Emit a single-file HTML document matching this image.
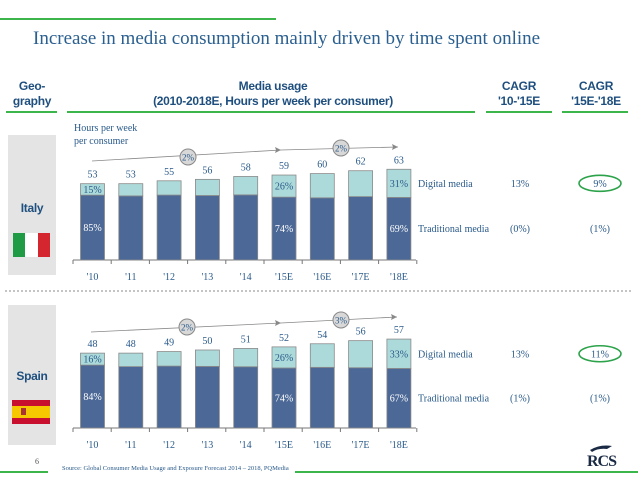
<!DOCTYPE html>
<html><head><meta charset="utf-8">
<style>
body{margin:0;background:#fff;}
svg{display:block;font-family:"Liberation Serif",serif;}
.hd{font-family:"Liberation Sans Narrow","Liberation Sans",sans-serif;font-weight:bold;fill:#1f4f7e;font-size:12px;letter-spacing:-0.3px}
.t{fill:#2a5a8a;font-size:10px}
</style></head><body>
<svg id="c" width="638" height="479" viewBox="0 0 638 479" xmlns="http://www.w3.org/2000/svg">
<line x1="0" y1="19" x2="276" y2="19" stroke="#3cb54a" stroke-width="2"/>
<text x="33" y="44" font-size="19" fill="#2a5f8f">Increase in media consumption mainly driven by time spent online</text>
<g>
<text class="hd" x="32" y="90" text-anchor="middle">Geo-</text>
<text class="hd" x="32" y="105" text-anchor="middle">graphy</text>
<line x1="6" y1="112" x2="57" y2="112" stroke="#3cb54a" stroke-width="2"/>
<text class="hd" x="273" y="90" text-anchor="middle">Media usage</text>
<text class="hd" x="273" y="105" text-anchor="middle">(2010-2018E, Hours per week per consumer)</text>
<line x1="67" y1="112" x2="475" y2="112" stroke="#3cb54a" stroke-width="2"/>
<text class="hd" x="519" y="90" text-anchor="middle">CAGR</text>
<text class="hd" x="519" y="105" text-anchor="middle">'10-'15E</text>
<line x1="486" y1="112" x2="552" y2="112" stroke="#3cb54a" stroke-width="2"/>
<text class="hd" x="596" y="90" text-anchor="middle">CAGR</text>
<text class="hd" x="596" y="105" text-anchor="middle">'15E-'18E</text>
<line x1="562" y1="112" x2="628" y2="112" stroke="#3cb54a" stroke-width="2"/>
</g>
<text class="t" x="74" y="131" fill="#5a7a9a">Hours per week</text>
<text class="t" x="74" y="144">per consumer</text>
<rect x="8" y="135" width="48" height="140" fill="#e4e4e4"/>
<text class="hd" x="32" y="212" text-anchor="middle" font-size="13">Italy</text>
<g><rect x="13" y="233" width="12" height="24" fill="#1f9a45"/><rect x="25" y="233" width="13" height="24" fill="#fff"/><rect x="38" y="233" width="12" height="24" fill="#d3262f"/></g>
<line x1="5" y1="291" x2="633" y2="291" stroke="#888" stroke-dasharray="2,2"/>
<rect x="8" y="305" width="48" height="140" fill="#e4e4e4"/>
<text class="hd" x="32" y="380" text-anchor="middle" font-size="13">Spain</text>
<g><rect x="12" y="400" width="38" height="6" fill="#c8102e"/><rect x="12" y="406" width="38" height="12" fill="#f6c800"/><rect x="12" y="418" width="38" height="6" fill="#c8102e"/><rect x="21" y="408" width="5" height="7" fill="#a33"/></g>
<text x="35" y="464" font-size="8" fill="#555">6</text>
<line x1="0" y1="472" x2="48" y2="472" stroke="#3cb54a" stroke-width="2"/>
<line x1="295" y1="472" x2="638" y2="472" stroke="#3cb54a" stroke-width="2"/>
<text x="62" y="470" font-size="6.5" fill="#2a5a8a">Source: Global Consumer Media Usage and Exposure Forecast 2014 – 2018, PQMedia</text>
<text x="587" y="466" font-size="16" font-weight="bold" fill="#1a2a44" letter-spacing="-1">RCS</text>
<path d="M590 450 Q600 444 612 446 L607 449 Q598 448 592 452Z" fill="#1a2a44"/>
</svg>
<script>
const years=["'10","'11","'12","'13","'14","'15E","'16E","'17E","'18E"];
const italyTotal=[53,53,55,56,58,59,60,62,63];
const italyDigital=[15,16,18,20,22,26,28,29,31];
const spainTotal=[48,48,49,50,51,52,54,56,57];
const spainDigital=[16,18,19,21,23,26,28,31,33];
const italyCagr1=["13%","(0%)"];
const italyCagr2=["9%","(1%)"];
const spainCagr1=["13%","(1%)"];
const spainCagr2=["11%","(1%)"];
const svg=document.getElementById('c');
const NS="http://www.w3.org/2000/svg";
function mk(tag,attrs,txt){const e=document.createElementNS(NS,tag);for(const k in attrs)e.setAttribute(k,attrs[k]);if(txt!==undefined)e.textContent=txt;svg.appendChild(e);return e;}
const xC=i=>92.5+i*38.3;
const bw=24;
function panel(country,total,digital,base,scale,c1,c2,arrows){
  const y=v=>base-v*scale;
  const ax=mk('line',{x1:73,y1:base,x2:416,y2:base,stroke:'#777'});
  
  
  for(let i=0;i<=9;i++){const tk=mk('line',{x1:73+i*38.2,y1:base,x2:73+i*38.2,y2:base+4,stroke:'#777'});
    
    }
  total.forEach((t,i)=>{
    const x=xC(i)-bw/2, d=t*digital[i]/100;
    const tr=mk('rect',{x:x,y:y(t-d),width:bw,height:(t-d)*scale,fill:'#4b6896',stroke:'#8a8a8a','stroke-width':0.8});
    
    
    const dr=mk('rect',{x:x,y:y(t),width:bw,height:d*scale,fill:'#acdada',stroke:'#8a8a8a','stroke-width':0.8});
    
    
    const lb=mk('text',{x:xC(i),y:y(t)-6,'text-anchor':'middle','font-size':10,fill:'#2a5a8a'},t);
    
    
    const yl=mk('text',{x:xC(i),y:base+20,'text-anchor':'middle','font-size':10,fill:'#2a5a8a'},years[i]);
    
    
    if(i===0||i===5||i===8){
      const p1=mk('text',{x:xC(i),y:y(t-d/2)+3.5,'text-anchor':'middle','font-size':10,fill:'#2a5a8a'},digital[i]+'%');
      
      
      const p2=mk('text',{x:xC(i),y:y((t-d)/2)+3.5,'text-anchor':'middle','font-size':10,fill:'#fff'},(100-digital[i])+'%');
      
      
    }
  });
  const t8=total[8],d8=t8*digital[8]/100;
  const yd=y(t8-d8/2)+3.5, yt=y((t8-d8)/2)+3.5;
  const l1=mk('text',{x:418,y:yd,'font-size':10,fill:'#2a5a8a'},'Digital media');
  
  
  const l2=mk('text',{x:418,y:yt,'font-size':10,fill:'#2a5a8a'},'Traditional media');
  
  
  [[c1,520],[c2,600]].forEach(([arr,cx])=>{
    const a=mk('text',{x:cx,y:yd,'text-anchor':'middle','font-size':10,fill:'#2a5a8a'},arr[0]);
    
    
    const b=mk('text',{x:cx,y:yt,'text-anchor':'middle','font-size':10,fill:'#2a5a8a'},arr[1]);
    
    
  });
  const ring=mk('ellipse',{cx:600,cy:yd-3.5,rx:21,ry:8,fill:'none',stroke:'#2ca24a','stroke-width':1.6});
  
  
  arrows.forEach(a=>{
    const ln=mk('line',{x1:a[0],y1:a[1],x2:a[2],y2:a[3],stroke:'#888','stroke-width':0.8});
    
    
    const hd=mk('path',{d:`M${a[2]} ${a[3]} l-6 -3 l1 3 l-1 3z`,fill:'#888'});
    
    
    const c=mk('circle',{cx:a[4],cy:a[5],r:8,fill:'#d8d8d8',stroke:'#888'});
    
    
    const ct=mk('text',{x:a[4],y:a[5]+3.5,'text-anchor':'middle','font-size':9,fill:'#2a5a8a'},a[6]);
    
    
  });
}
panel('italy',italyTotal,italyDigital,260,1.44,italyCagr1,italyCagr2,[[92,161,281,150,188,157,'2%'],[281,150,398,147,341,148,'2%']]);
panel('spain',spainTotal,spainDigital,428,1.56,spainCagr1,spainCagr2,[[91,332,281,323,187,327,'2%'],[281,323,397,317,341,320,'3%']]);
</script>
</body></html>
